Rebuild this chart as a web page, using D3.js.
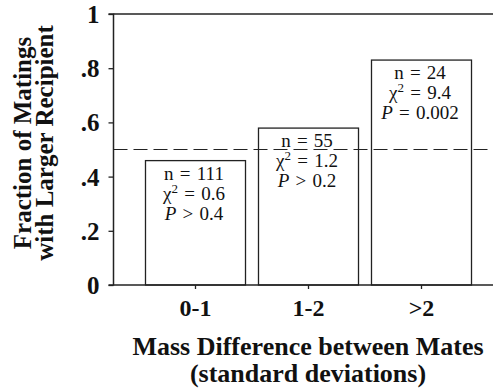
<!DOCTYPE html>
<html><head><meta charset="utf-8">
<script src="https://cdn.jsdelivr.net/npm/d3@7"></script>
<style>
body{margin:0;background:#fff;}
text{font-family:"Liberation Serif","Times New Roman",serif;}
</style>
</head><body>
<svg id="chart" width="493" height="388"></svg>
<script>
const categories = ["0-1", "1-2", ">2"];
const fractions = [0.459, 0.579, 0.830];
const nValues = ["111", "55", "24"];
const chiValues = ["0.6", "1.2", "9.4"];
const pRel = [">", ">", "="];
const pValues = ["0.4", "0.2", "0.002"];
const yTicks = [0, 0.2, 0.4, 0.6, 0.8, 1];
const yTickLabels = ["0", ".2", ".4", ".6", ".8", "1"];
const refLine = 0.5;

(function () {
const svg = d3.select("#chart");
const mLeft = 113.5, mRight = 493, mTop = 14, mBottom = 285;

const x = d3.scaleBand().domain(categories).range([139, 478]).paddingInner(0.115).paddingOuter(0.0575);
const y = d3.scaleLinear().domain([0, 1]).range([mBottom, mTop]);

// top frame line
svg.append("line").attr("x1", mLeft).attr("x2", mRight).attr("y1", y(1)).attr("y2", y(1))
  .attr("stroke", "#222").attr("stroke-width", 1.5);

// bars
svg.selectAll("rect.bar").data(categories).enter().append("rect")
  .attr("x", d => x(d)).attr("width", x.bandwidth())
  .attr("y", (d, i) => y(fractions[i])).attr("height", (d, i) => y(0) - y(fractions[i]))
  .attr("fill", "#fff").attr("stroke", "#222").attr("stroke-width", 1.3);

// dashed reference line
svg.append("line").attr("x1", mLeft).attr("x2", mRight).attr("y1", y(refLine)).attr("y2", y(refLine))
  .attr("stroke", "#222").attr("stroke-width", 1.2).attr("stroke-dasharray", "14,6");

// y axis
const yAxis = d3.axisLeft(y).tickValues(yTicks).tickFormat((d, i) => yTickLabels[i]).tickSize(5).tickPadding(9);
const gy = svg.append("g").attr("transform", `translate(${mLeft},0)`).call(yAxis);
gy.select(".domain").attr("stroke", "#222").attr("stroke-width", 1.5).attr("d", `M-5,${y(1)}H0V${y(0)}H-5`);
gy.selectAll(".tick line").attr("stroke", "#222").attr("stroke-width", 1.3);
gy.selectAll(".tick text").attr("font-family", "Liberation Serif").attr("font-weight", "bold")
  .attr("font-size", 25).attr("fill", "#111").attr("dy", "0.34em");

// x axis
const xAxis = d3.axisBottom(x).tickSize(4).tickPadding(11);
const gx = svg.append("g").attr("transform", `translate(0,${mBottom})`).call(xAxis);
gx.select(".domain").attr("stroke", "#222").attr("stroke-width", 1.5).attr("d", `M${mLeft},0H${mRight}`);
gx.selectAll(".tick line").attr("stroke", "#222").attr("stroke-width", 1.3);
gx.selectAll(".tick text").attr("font-family", "Liberation Serif").attr("font-weight", "bold")
  .attr("font-size", 24).attr("fill", "#111").attr("dy", "0.66em");

// annotations
const ann = svg.selectAll("g.ann").data(categories).enter().append("g")
  .attr("transform", (d, i) => `translate(${x(d) + x.bandwidth() / 2 - 1.5},${y(fractions[i]) + 19})`);
const fs = 19;
ann.append("text").attr("text-anchor", "middle").attr("font-size", fs).attr("word-spacing", 1.5).attr("fill", "#111")
  .text((d, i) => `n = ${nValues[i]}`);
const chi = ann.append("text").attr("text-anchor", "middle").attr("font-size", fs).attr("word-spacing", 1.5).attr("fill", "#111").attr("y", 20);
chi.append("tspan").text("χ");
chi.append("tspan").attr("font-size", 13).attr("dy", -7).text("2");
chi.append("tspan").attr("dy", 7).text((d, i) => ` = ${chiValues[i]}`);
const pt = ann.append("text").attr("text-anchor", "middle").attr("font-size", fs).attr("word-spacing", 1.5).attr("fill", "#111").attr("y", 40);
pt.append("tspan").attr("font-style", "italic").text("P");
pt.append("tspan").text((d, i) => ` ${pRel[i]} ${pValues[i]}`);

// axis titles
svg.append("text").attr("x", 308).attr("y", 355).attr("text-anchor", "middle")
  .attr("font-weight", "bold").attr("font-size", 26).attr("fill", "#111").text("Mass Difference between Mates");
svg.append("text").attr("x", 308).attr("y", 382).attr("text-anchor", "middle")
  .attr("font-weight", "bold").attr("font-size", 26).attr("fill", "#111").text("(standard deviations)");

const yt = svg.append("g").attr("transform", "translate(0,143) rotate(-90)");
yt.append("text").attr("x", 0).attr("y", 31).attr("text-anchor", "middle")
  .attr("font-weight", "bold").attr("font-size", 25).attr("fill", "#111").text("Fraction of Matings");
yt.append("text").attr("x", 0).attr("y", 53).attr("text-anchor", "middle")
  .attr("font-weight", "bold").attr("font-size", 25).attr("fill", "#111").text("with Larger Recipient");
})();
</script>
</body></html>
